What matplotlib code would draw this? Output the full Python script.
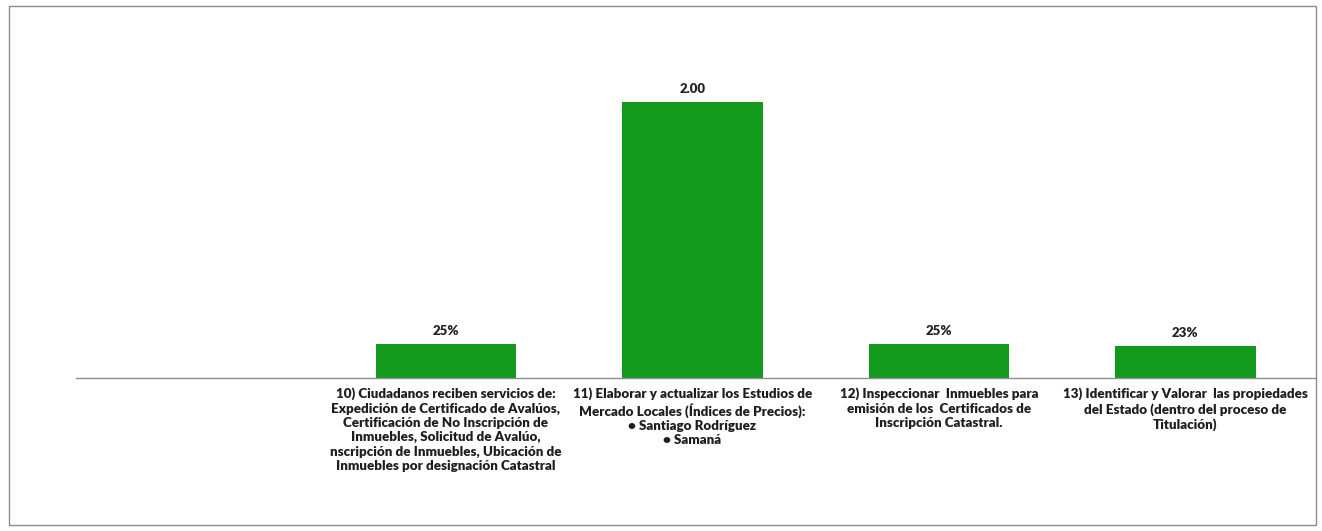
import matplotlib
matplotlib.use('Agg')
import matplotlib.pyplot as plt
from matplotlib.patches import Rectangle

categories = [
    '',
    '10) Ciudadanos reciben servicios de:\nExpedición de Certificado de Avalúos,\n'
    'Certificación de No Inscripción de\nInmuebles, Solicitud de Avalúo,\n'
    'nscripción de Inmuebles, Ubicación de\nInmuebles por designación Catastral',
    '11) Elaborar y actualizar los Estudios de\nMercado Locales (Índices de Precios):\n'
    '• Santiago Rodríguez\n• Samaná',
    '12) Inspeccionar  Inmuebles para\nemisión de los  Certificados de\nInscripción Catastral.',
    '13) Identificar y Valorar  las propiedades\ndel Estado (dentro del proceso de\nTitulación)',
]
values = [None, 0.25, 2.00, 0.25, 0.23]
value_labels = ['', '25%', '2.00', '25%', '23%']

plt.rcParams['font.family'] = ['Lato', 'DejaVu Sans']

fig = plt.figure(figsize=(13.22, 5.31), dpi=100)
W, H = 1322, 531
# axes: left edge at x=76px, baseline at y=378px
ax = fig.add_axes([76 / W, (H - 378) / H, (1316 - 76) / W, 345 / H])

xs = [i for i, v in enumerate(values) if v is not None]
hs = [v for v in values if v is not None]
bars = ax.bar(xs, hs, width=0.57, color='#139a1d', zorder=2)
for b, lab in zip(bars, [l for l, v in zip(value_labels, values) if v is not None]):
    ax.annotate(lab, (b.get_x() + b.get_width() / 2, b.get_height()),
                xytext=(0, 5), textcoords='offset points', ha='center', va='bottom',
                fontsize=9.5, fontweight='heavy', color='#222222')

ax.set_xlim(-0.5, 4.53)
ax.set_ylim(0, 2.5)
ax.set_xticks(range(len(categories)))
ax.set_xticklabels(categories, fontsize=9.6, fontweight='heavy', color='#1e1e1e',
                   linespacing=1.22)
ax.tick_params(axis='x', length=0, pad=7)
ax.set_yticks([])
for s in ['top', 'right', 'left']:
    ax.spines[s].set_visible(False)
ax.spines['bottom'].set_color('#8a8f96')
ax.spines['bottom'].set_linewidth(1.0)

# outer frame
fig.patches.append(Rectangle((9 / W, (H - 525) / H), (1316 - 9) / W, (525 - 6) / H,
                             transform=fig.transFigure, fill=False,
                             edgecolor='#8c8c8c', linewidth=1.0))

fig.savefig('out.png', dpi=100)
